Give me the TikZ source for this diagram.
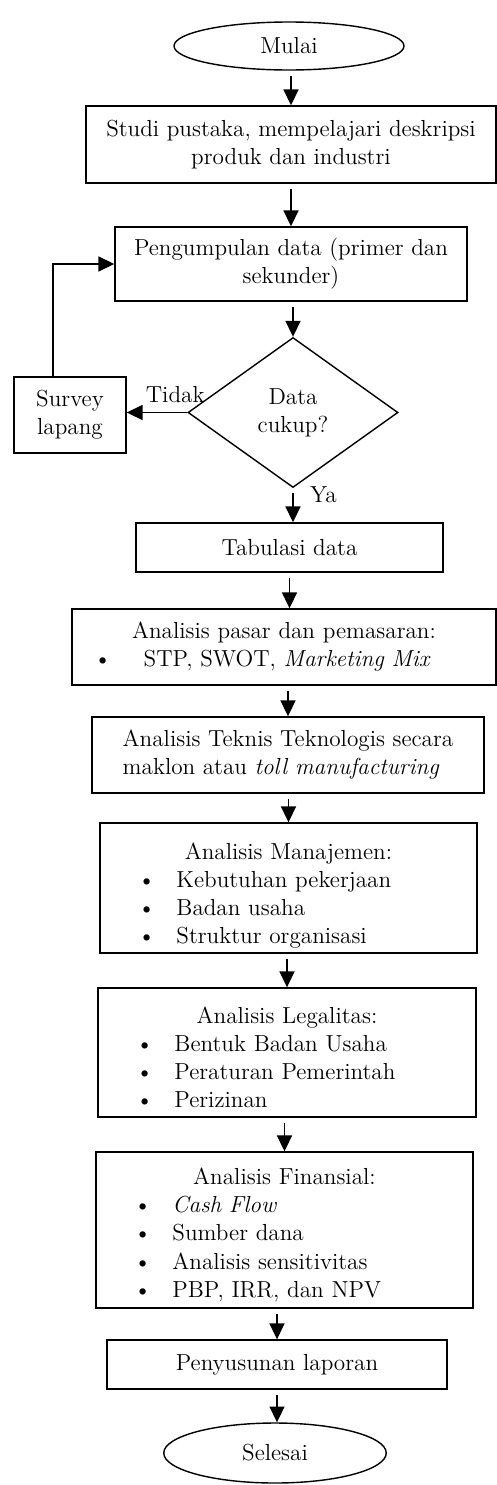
\documentclass[tikz,border=0pt]{standalone}
\usepackage{fontspec}
\usetikzlibrary{shapes.geometric, arrows.meta}
\tikzset{
    > = {Triangle[length=9pt, width=8.5pt]},
    every path/.style = {thick},
    every node/.style = {font=\fontsize{13.2}{16}\selectfont},
    box/.style = {draw, rectangle, align=center},
    list/.style = {draw, rectangle, align=left, inner xsep=0pt, inner ysep=2pt},
    flow/.style = {->, shorten <=3pt}
}
\newcommand{\itm}{\par\noindent\hspace*{21.5pt}\makebox[22pt][l]{\textbullet}}

\begin{document}
\begin{tikzpicture}
    \useasboundingbox (0,0) rectangle (9.94,-29.70);

    \node[draw, ellipse, minimum width=4.6cm, minimum height=0.96cm] (mulai) at (5.78,-0.92) {Mulai};
    \node[box, minimum width=8.2cm, minimum height=1.54cm] (studi) at (5.82,-2.89)
        {Studi pustaka, mempelajari deskripsi\\produk dan industri};
    \node[box, minimum width=7.04cm, minimum height=1.48cm] (kumpul) at (5.82,-5.28)
        {Pengumpulan data (primer dan\\sekunder)};
    \node[draw, diamond, align=center, inner sep=0pt, minimum width=4.2cm, minimum height=3cm] (cukup) at (5.86,-8.25)
        {Data\\cukup?};
    \node[box, minimum width=2.24cm, minimum height=1.52cm] (survey) at (1.40,-8.30) {Survey\\lapang};
    \node[box, minimum width=6.14cm, minimum height=0.98cm] (tabulasi) at (5.79,-10.95) {Tabulasi data};
    \node[list, text width=8.48cm, minimum height=1.52cm] (pasar) at (5.68,-12.94)
        {{\centering Analisis pasar dan pemasaran:\par}
         \hbox to \hsize{\hspace{12.5pt}\textbullet\hfill STP, SWOT, \textit{Marketing Mix}\hfill\hspace{19pt}}};
    \node[box, align=left, minimum width=7.84cm, minimum height=1.52cm] (teknis) at (5.76,-15.10)
        {Analisis Teknis Teknologis secara\\maklon atau \textit{toll manufacturing}};
    \node[list, text width=7.54cm, minimum height=2.6cm] (manajemen) at (5.77,-17.76)
        {{\centering\rule{0pt}{18pt}Analisis Manajemen:\par}
         \itm Kebutuhan pekerjaan
         \itm Badan usaha
         \itm Struktur organisasi};
    \node[list, text width=7.56cm, minimum height=2.58cm] (legalitas) at (5.74,-21.05)
        {{\centering\rule{0pt}{15pt}Analisis Legalitas:\par}
         \itm Bentuk Badan Usaha
         \itm Peraturan Pemerintah
         \itm Perizinan};
    \node[list, text width=7.54cm, minimum height=3.12cm] (finansial) at (5.69,-24.60)
        {{\centering\rule{0pt}{15pt}Analisis Finansial:\par}
         \itm \textit{Cash Flow}
         \itm Sumber dana
         \itm Analisis sensitivitas
         \itm PBP, IRR, dan NPV};
    \node[box, minimum width=6.8cm, minimum height=0.98cm] (laporan) at (5.54,-27.29) {Penyusunan laporan};
    \node[draw, ellipse, minimum width=4.45cm, minimum height=1.2cm] (selesai) at (5.50,-29.06) {Selesai};

    \draw[flow] (mulai.south -| studi) -- (studi);
    \draw[flow] (studi.south -| kumpul) -- (kumpul);
    \draw[flow] (kumpul.south -| cukup) -- (cukup);
    \draw[->] (cukup.west) -- node[above, pos=0.2, yshift=2pt] (tidak) {Tidak} (cukup.west -| survey.east);
    \draw[->] ([xshift=-0.34cm]survey.north) |- (kumpul.west);
    \draw[flow] (cukup) -- node[right, xshift=6pt, pos=0.2] (ya) {Ya} (cukup |- tabulasi.north);
    \draw[flow] (tabulasi) -- (tabulasi |- pasar.north);
    \draw[flow] (pasar.south -| teknis) -- (teknis);
    \draw[flow] (teknis.south -| manajemen) -- (manajemen);
    \draw[flow] (manajemen.south -| legalitas) -- (legalitas);
    \draw[flow] (legalitas.south -| finansial) -- (finansial);
    \draw[flow] (finansial.south -| laporan) -- (laporan);
    \draw[flow] (laporan) -- (laporan |- selesai.north);
\end{tikzpicture}
\end{document}
